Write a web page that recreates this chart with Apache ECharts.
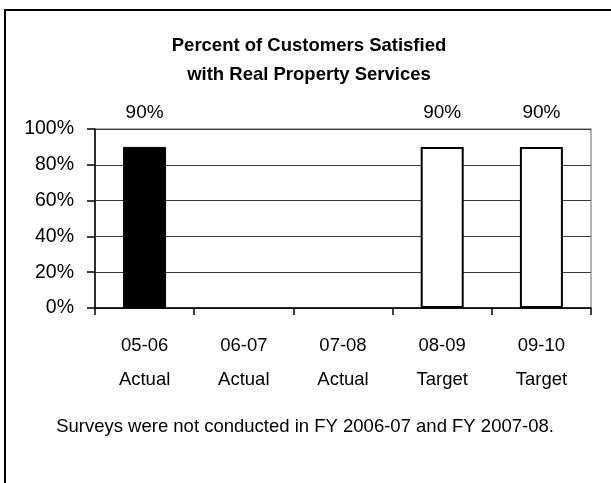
<!DOCTYPE html>
<html>
<head>
<meta charset="utf-8">
<script src="https://cdn.jsdelivr.net/npm/echarts@6/dist/echarts.min.js"></script>
<style>
html,body{margin:0;padding:0;background:#fff;}
#chart{width:611px;height:483px;}
</style>
</head>
<body>
<div id="chart"></div>
<script>
// ---- data ----
var titleLines = ['Percent of Customers Satisfied', 'with Real Property Services'];
var years = ['05-06', '06-07', '07-08', '08-09', '09-10'];
var kinds = ['Actual', 'Actual', 'Actual', 'Target', 'Target'];
var actualValues = [90, null, null, null, null];
var targetValues = [null, null, null, 90, 90];
var yTicks = [0, 20, 40, 60, 80, 100];
var footnote = 'Surveys were not conducted in FY 2006-07 and FY 2007-08.';

var FONT = "'Liberation Sans Narrow', 'Arial Narrow', 'Liberation Sans', Arial, sans-serif";
var categories = years.map(function (y, i) { return y + '\n' + kinds[i]; });

var chart = echarts.init(document.getElementById('chart'), null, {renderer: 'canvas'});
var labelCfg = {
  show: true,
  position: 'top',
  distance: 25,
  formatter: function (p) { return p.value + '%'; },
  color: '#000',
  fontFamily: FONT,
  fontSize: 19
};
chart.setOption({
  animation: false,
  backgroundColor: '#fff',
  grid: {left: 95, right: 20, top: 129, bottom: 175, show: true, borderColor: '#9a9a9a', borderWidth: 1.5, backgroundColor: 'transparent'},
  xAxis: {
    type: 'category',
    data: categories,
    axisLine: {show: true, lineStyle: {color: '#000', width: 1.5}},
    axisTick: {show: true, length: 7, lineStyle: {color: '#000', width: 1.5}},
    axisLabel: {color: '#000', fontFamily: FONT, fontSize: 18.5, lineHeight: 34, margin: 21, interval: 0}
  },
  yAxis: {
    type: 'value',
    min: yTicks[0],
    max: yTicks[yTicks.length - 1],
    interval: yTicks[1] - yTicks[0],
    axisLine: {show: true, lineStyle: {color: '#000', width: 1.5}},
    axisTick: {show: true, length: 8, lineStyle: {color: '#000', width: 1.5}},
    axisLabel: {color: '#000', fontFamily: FONT, fontSize: 19.5, margin: 21, formatter: '{value}%'},
    splitLine: {show: true, lineStyle: {color: '#3a3a3a', width: 1}}
  },
  series: [
    {
      name: 'Actual', type: 'bar', data: actualValues, barWidth: 43, barGap: '-100%',
      itemStyle: {color: '#000', borderColor: '#000', borderWidth: 1},
      label: labelCfg
    },
    {
      name: 'Target', type: 'bar', data: targetValues, barWidth: 43, barGap: '-100%',
      itemStyle: {color: '#fff', borderColor: '#000', borderWidth: 2},
      label: labelCfg
    }
  ],
  graphic: [
    {type: 'rect', shape: {x: 5, y: 10, width: 700, height: 600}, style: {fill: 'none', stroke: '#000', lineWidth: 2}, silent: true},
    {type: 'text', x: 309, y: 46, style: {text: titleLines[0], font: 'bold 18.5px ' + FONT, fill: '#000', align: 'center', verticalAlign: 'middle'}},
    {type: 'text', x: 309, y: 75, style: {text: titleLines[1], font: 'bold 18.5px ' + FONT, fill: '#000', align: 'center', verticalAlign: 'middle'}},
    {type: 'text', x: 305, y: 427, style: {text: footnote, font: '18.5px ' + FONT, fill: '#000', align: 'center', verticalAlign: 'middle'}}
  ]
});
</script>
</body>
</html>
